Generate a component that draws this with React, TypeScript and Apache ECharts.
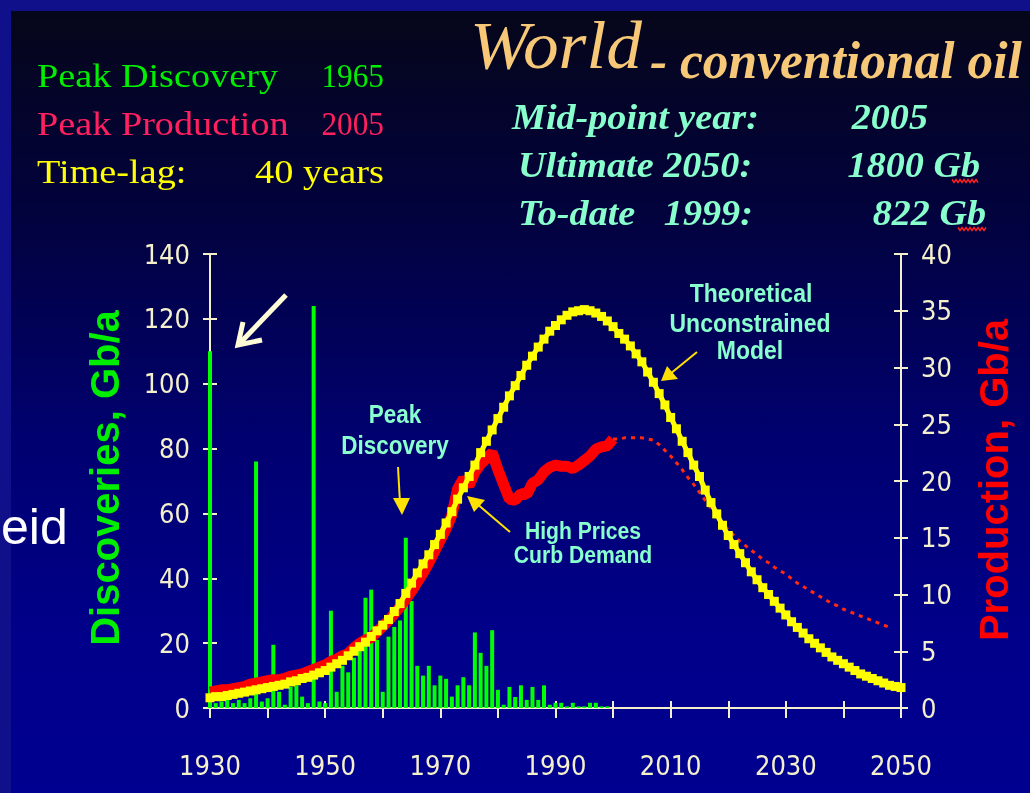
import React, { useEffect, useRef } from "react";
import * as echarts from "echarts";

// ---------- DATA ----------
const discoveryYears = [
  1930, 1931, 1932, 1933, 1934, 1935, 1936, 1937, 1938, 1939,
  1940, 1941, 1942, 1943, 1944, 1945, 1946, 1947, 1948, 1949,
  1950, 1951, 1952, 1953, 1954, 1955, 1956, 1957, 1958, 1959,
  1960, 1961, 1962, 1963, 1964, 1965, 1966, 1967, 1968, 1969,
  1970, 1971, 1972, 1973, 1974, 1975, 1976, 1977, 1978, 1979,
  1980, 1981, 1982, 1983, 1984, 1985, 1986, 1987, 1988, 1989,
  1990, 1991, 1992, 1993, 1994, 1995, 1996, 1997, 1998, 1999,
];
const discoveryValues = [
  110, 1.5, 2, 2.5, 1.5, 2.5, 1.5, 3, 76, 2,
  3, 19.5, 5, 1, 6.5, 7, 3.5, 1.5, 124, 2,
  1.5, 30, 5, 13, 11, 15.5, 18, 34, 36.5, 21,
  5, 22, 25, 27, 52.5, 33, 13, 10, 13, 7,
  10, 9, 3.5, 7, 9.5, 7, 23.3, 17, 13, 24,
  5.6, 1, 6.5, 3.4, 7, 2.5, 6.5, 2.5, 7, 1,
  1.6, 1.6, 0.5, 1.6, 0.5, 0.5, 1.6, 1.6, 0.5, 0.5,
];

const productionStart = 1930; // actual production, one value per year 1930-2000
const productionValues = [
  1.4, 1.5, 1.6, 1.6, 1.7, 1.8, 1.9, 2.1, 2.2, 2.3,
  2.4, 2.5, 2.5, 2.6, 2.8, 2.9, 3.0, 3.2, 3.4, 3.6,
  3.8, 4.1, 4.3, 4.6, 4.8, 5.3, 5.7, 6.0, 6.2, 6.7,
  7.2, 7.7, 8.3, 8.9, 9.6, 10.3, 11.1, 11.9, 12.8, 13.8,
  14.8, 15.8, 17.0, 19.3, 20.2, 19.6, 20.8, 21.5, 22.0, 22.5,
  21.0, 19.7, 18.4, 18.3, 18.9, 18.8, 19.8, 20.1, 20.8, 21.2,
  21.4, 21.3, 21.3, 21.1, 21.4, 21.8, 22.2, 22.8, 23.0, 23.1,
  23.7,
];

const forecastStart = 2000; // forecast production 2000-2048
const forecastValues = [
  23.7, 23.7, 23.8, 23.8, 23.8, 23.8, 23.7, 23.6, 23.2, 22.7,
  22.2, 21.6, 21.0, 20.3, 19.7, 19.0, 18.3, 17.6, 16.9, 16.3,
  15.7, 15.2, 14.7, 14.3, 13.9, 13.5, 13.1, 12.8, 12.4, 12.1,
  11.8, 11.4, 11.0, 10.7, 10.4, 10.1, 9.8, 9.5, 9.2, 9.0,
  8.7, 8.5, 8.3, 8.1, 7.9, 7.7, 7.5, 7.3, 7.1,
];

const modelStart = 1930; // theoretical unconstrained model 1930-2050
const modelValues = [
  0.9, 1.0, 1.0, 1.1, 1.2, 1.3, 1.4, 1.5, 1.6, 1.7,
  1.8, 1.9, 2.0, 2.1, 2.3, 2.4, 2.6, 2.7, 2.9, 3.1,
  3.3, 3.6, 3.9, 4.2, 4.6, 5.0, 5.4, 5.8, 6.3, 6.8,
  7.3, 7.8, 8.5, 9.2, 10.1, 11.0, 11.9, 12.7, 13.5, 14.4,
  15.3, 16.3, 17.3, 18.4, 19.4, 20.4, 21.4, 22.5, 23.5, 24.5,
  25.5, 26.5, 27.5, 28.4, 29.3, 30.2, 31.0, 31.8, 32.5, 33.2,
  33.7, 34.2, 34.6, 34.9, 35.0, 35.1, 35.0, 34.8, 34.5, 34.1,
  33.6, 33.0, 32.5, 31.9, 31.2, 30.5, 29.6, 28.7, 27.7, 26.7,
  25.6, 24.6, 23.5, 22.5, 21.4, 20.4, 19.2, 18.1, 17.1, 16.1,
  15.2, 14.4, 13.6, 12.8, 12.0, 11.3, 10.6, 10.0, 9.4, 8.8,
  8.2, 7.6, 7.1, 6.6, 6.1, 5.7, 5.3, 4.9, 4.5, 4.2,
  3.9, 3.6, 3.3, 3.0, 2.8, 2.6, 2.4, 2.2, 2.0, 1.9,
  1.8,
];

const xMin = 1930;
const xMax = 2050;
const xInterval = 10;
const leftMax = 140;
const leftInterval = 20;
const rightMax = 40;
const rightInterval = 5;

const headerLeft = [
  { label: "Peak Discovery", value: "1965", color: "#00ee00", vsx: 0.92 },
  { label: "Peak Production", value: "2005", color: "#ff2060", vsx: 0.92 },
  { label: "Time-lag:", value: "40 years", color: "#ffff00", vsx: 1.13 },
];
const headerRight = [
  { label: "Mid-point year:", value: "2005" },
  { label: "Ultimate 2050:", value: "1800 Gb" },
  { label: "To-date   1999:", value: "822 Gb" },
];

// ---------- STYLE ----------
const CREAM = "#f4f0cc";
const AQUA = "#88ffcc";
const AXIS_FONT = "'Liberation Sans Narrow','DejaVu Sans Condensed','Liberation Sans',sans-serif";

function pairs(start: number, vals: number[]) {
  return vals.map((v, i) => [start + i, v]);
}

function squiggle(x0: number, x1: number, y: number) {
  const pts: number[][] = [];
  let up = true;
  for (let x = x0; x <= x1; x += 2) {
    pts.push([x, up ? y - 1.5 : y + 1.5]);
    up = !up;
  }
  return pts;
}

export default function App() {
  const ref = useRef<HTMLDivElement>(null);
  useEffect(() => {
    if (!ref.current) return;
    const chart = echarts.init(ref.current, undefined, { renderer: "svg" });

    const t = (
      text: string,
      x: number,
      y: number,
      opts: {
        size: number;
        family?: string;
        weight?: string;
        style?: string;
        fill: string;
        align?: string;
        sx?: number;
        rot?: number;
      }
    ) => ({
      type: "text",
      x,
      y,
      scaleX: opts.sx ?? 1,
      rotation: opts.rot ?? 0,
      z: 50,
      silent: true,
      style: {
        text,
        fontSize: opts.size,
        fontFamily: opts.family ?? "'Liberation Serif',serif",
        fontWeight: opts.weight ?? "normal",
        fontStyle: opts.style ?? "normal",
        fill: opts.fill,
        align: opts.align ?? "left",
        verticalAlign: "middle",
      },
    });

    const annotFont = "'Liberation Sans',Arial,sans-serif";
    const graphics: any[] = [
      { type: "rect", z: -10, silent: true, shape: { x: 0, y: 0, width: 1030, height: 793 }, style: { fill: "#10108a" } },
      {
        type: "rect",
        z: -9,
        silent: true,
        shape: { x: 11, y: 11, width: 1019, height: 782 },
        style: {
          fill: {
            type: "linear", x: 0, y: 0, x2: 0, y2: 1,
            colorStops: [
              { offset: 0, color: "#06061a" },
              { offset: 0.25, color: "#02023c" },
              { offset: 0.55, color: "#000070" },
              { offset: 0.8, color: "#00008a" },
              { offset: 1, color: "#000090" },
            ],
          },
        },
      },
      // left header
      ...headerLeft.flatMap((h, i) => [
        t(h.label, 37, 76 + i * 48, { size: 34, fill: h.color, sx: 1.125 }),
        t(h.value, 384, 76 + i * 48, { size: 34, fill: h.color, align: "right", sx: h.vsx }),
      ]),
      // title
      t("World", 470, 45, { size: 68, style: "italic", fill: "#f6c878", sx: 1.05 }),
      t("- conventional oil", 650, 60, { size: 52, style: "italic", weight: "bold", fill: "#f6c878", sx: 0.99 }),
      // right header
      ...headerRight.flatMap((h, i) => [
        t(h.label, i === 0 ? 512 : 518, 117 + i * 48, { size: 36, style: "italic", weight: "bold", fill: AQUA, sx: 1.06 }),
        t(h.value, i === 0 ? 928 : 980 + (i === 2 ? 6 : 0), 117 + i * 48, { size: 36, style: "italic", weight: "bold", fill: AQUA, align: "right", sx: 1.06 }),
      ]),
      { type: "polyline", z: 51, silent: true, shape: { points: squiggle(952, 978, 181) }, style: { stroke: "#ff2020", lineWidth: 1.5, fill: null } },
      { type: "polyline", z: 51, silent: true, shape: { points: squiggle(958, 986, 229) }, style: { stroke: "#ff2020", lineWidth: 1.5, fill: null } },
      // axis titles
      t("Discoveries, Gb/a", 105, 478, { size: 40, family: annotFont, weight: "bold", fill: "#00ee00", align: "center", rot: Math.PI / 2 }),
      t("Production, Gb/a", 994, 480, { size: 40, family: annotFont, weight: "bold", fill: "#ff0000", align: "center", rot: Math.PI / 2 }),
      // stray label
      t("eid", 1, 527, { size: 50, family: annotFont, fill: "#ffffff" }),
      // annotations
      t("Peak", 395, 414, { size: 25, family: annotFont, weight: "bold", fill: AQUA, align: "center", sx: 0.9 }),
      t("Discovery", 395, 445, { size: 25, family: annotFont, weight: "bold", fill: AQUA, align: "center", sx: 0.9 }),
      t("High Prices", 583, 531, { size: 24, family: annotFont, weight: "bold", fill: AQUA, align: "center", sx: 0.88 }),
      t("Curb Demand", 583, 555, { size: 24, family: annotFont, weight: "bold", fill: AQUA, align: "center", sx: 0.88 }),
      t("Theoretical", 751, 293, { size: 25, family: annotFont, weight: "bold", fill: AQUA, align: "center", sx: 0.92 }),
      t("Unconstrained", 750, 323, { size: 25, family: annotFont, weight: "bold", fill: AQUA, align: "center", sx: 0.92 }),
      t("Model", 750, 350, { size: 25, family: annotFont, weight: "bold", fill: AQUA, align: "center", sx: 0.92 }),
      // arrows
      { type: "line", z: 51, silent: true, shape: { x1: 398, y1: 467, x2: 400, y2: 503 }, style: { stroke: "#ffe000", lineWidth: 2 } },
      { type: "polygon", z: 51, silent: true, shape: { points: [[393, 498], [410, 498], [402, 515]] }, style: { fill: "#ffe000" } },
      { type: "line", z: 51, silent: true, shape: { x1: 510, y1: 532, x2: 476, y2: 503 }, style: { stroke: "#ffe000", lineWidth: 2 } },
      { type: "polygon", z: 51, silent: true, shape: { points: [[467, 496], [485, 500], [474, 512]] }, style: { fill: "#ffe000" } },
      { type: "line", z: 51, silent: true, shape: { x1: 697, y1: 352, x2: 670, y2: 374 }, style: { stroke: "#ffe000", lineWidth: 2 } },
      { type: "polygon", z: 51, silent: true, shape: { points: [[661, 381], [667, 366], [678, 379]] }, style: { fill: "#ffe000" } },
      { type: "line", z: 51, silent: true, shape: { x1: 286, y1: 295, x2: 241, y2: 342 }, style: { stroke: "#fffbd6", lineWidth: 5 } },
      { type: "polyline", z: 51, silent: true, shape: { points: [[243, 322], [238, 345], [262, 340]] }, style: { stroke: "#fffbd6", lineWidth: 5, fill: null } },
    ];

    const axisLineStyle = { lineStyle: { color: CREAM, width: 2 } };
    const yLabel = { color: CREAM, fontSize: 27, fontFamily: AXIS_FONT, margin: 20 };

    const option: any = {
      animation: false,
      grid: { left: 210, right: 129, top: 254, bottom: 85, containLabel: false },
      xAxis: [
        {
          type: "value", min: xMin, max: xMax, interval: xInterval, position: "bottom",
          axisLine: axisLineStyle,
          axisTick: { show: true, length: 10, lineStyle: { color: CREAM, width: 2 } },
          axisLabel: {
            color: CREAM, fontSize: 27, fontFamily: AXIS_FONT, margin: 44,
            formatter: (v: number) => ((v - xMin) % 20 === 0 ? String(v) : ""),
          },
          splitLine: { show: false },
        },
        {
          type: "value", min: xMin, max: xMax, interval: xInterval, position: "bottom",
          axisLine: { show: false },
          axisTick: { show: true, inside: true, length: 7, lineStyle: { color: CREAM, width: 2 } },
          axisLabel: { show: false },
          splitLine: { show: false },
        },
      ],
      yAxis: [
        {
          type: "value", min: 0, max: leftMax, interval: leftInterval, position: "left",
          axisLine: { show: true, ...axisLineStyle },
          axisTick: { show: true, length: 7, lineStyle: { color: CREAM, width: 2 } },
          axisLabel: yLabel,
          splitLine: { show: false },
        },
        {
          type: "value", min: 0, max: rightMax, interval: rightInterval, position: "right",
          axisLine: { show: true, ...axisLineStyle },
          axisTick: { show: true, length: 7, lineStyle: { color: CREAM, width: 2 } },
          axisLabel: yLabel,
          splitLine: { show: false },
        },
        {
          type: "value", min: 0, max: leftMax, interval: leftInterval, position: "left",
          axisLine: { show: false },
          axisTick: { show: true, inside: true, length: 7, lineStyle: { color: CREAM, width: 2 } },
          axisLabel: { show: false },
          splitLine: { show: false },
        },
        {
          type: "value", min: 0, max: rightMax, interval: rightInterval, position: "right",
          axisLine: { show: false },
          axisTick: { show: true, inside: true, length: 7, lineStyle: { color: CREAM, width: 2 } },
          axisLabel: { show: false },
          splitLine: { show: false },
        },
      ],
      series: [
        {
          name: "Discoveries",
          type: "bar",
          xAxisIndex: 0,
          yAxisIndex: 0,
          barWidth: 4,
          itemStyle: { color: "#00ff00" },
          data: discoveryYears.map((y, i) => [y, discoveryValues[i]]),
          z: 2,
        },
        {
          name: "Production",
          type: "line",
          xAxisIndex: 0,
          yAxisIndex: 1,
          symbol: "none",
          lineStyle: { color: "#ff0000", width: 11 },
          data: pairs(productionStart, productionValues),
          z: 3,
        },
        {
          name: "Forecast",
          type: "line",
          xAxisIndex: 0,
          yAxisIndex: 1,
          symbol: "none",
          lineStyle: { color: "#ff2a10", width: 3, type: [4, 5] },
          data: pairs(forecastStart, forecastValues),
          z: 3,
        },
        {
          name: "Model",
          type: "line",
          xAxisIndex: 0,
          yAxisIndex: 1,
          symbol: "rect",
          symbolSize: 9,
          showAllSymbol: true,
          itemStyle: { color: "#ffff00" },
          lineStyle: { color: "#ffff00", width: 5 },
          data: pairs(modelStart, modelValues),
          z: 4,
        },
      ],
      graphic: graphics,
    };

    chart.setOption(option);
    return () => chart.dispose();
  }, []);

  return (
    <div
      ref={ref}
      style={{ position: "fixed", left: 0, top: 0, width: 1030, height: 793 }}
    />
  );
}
